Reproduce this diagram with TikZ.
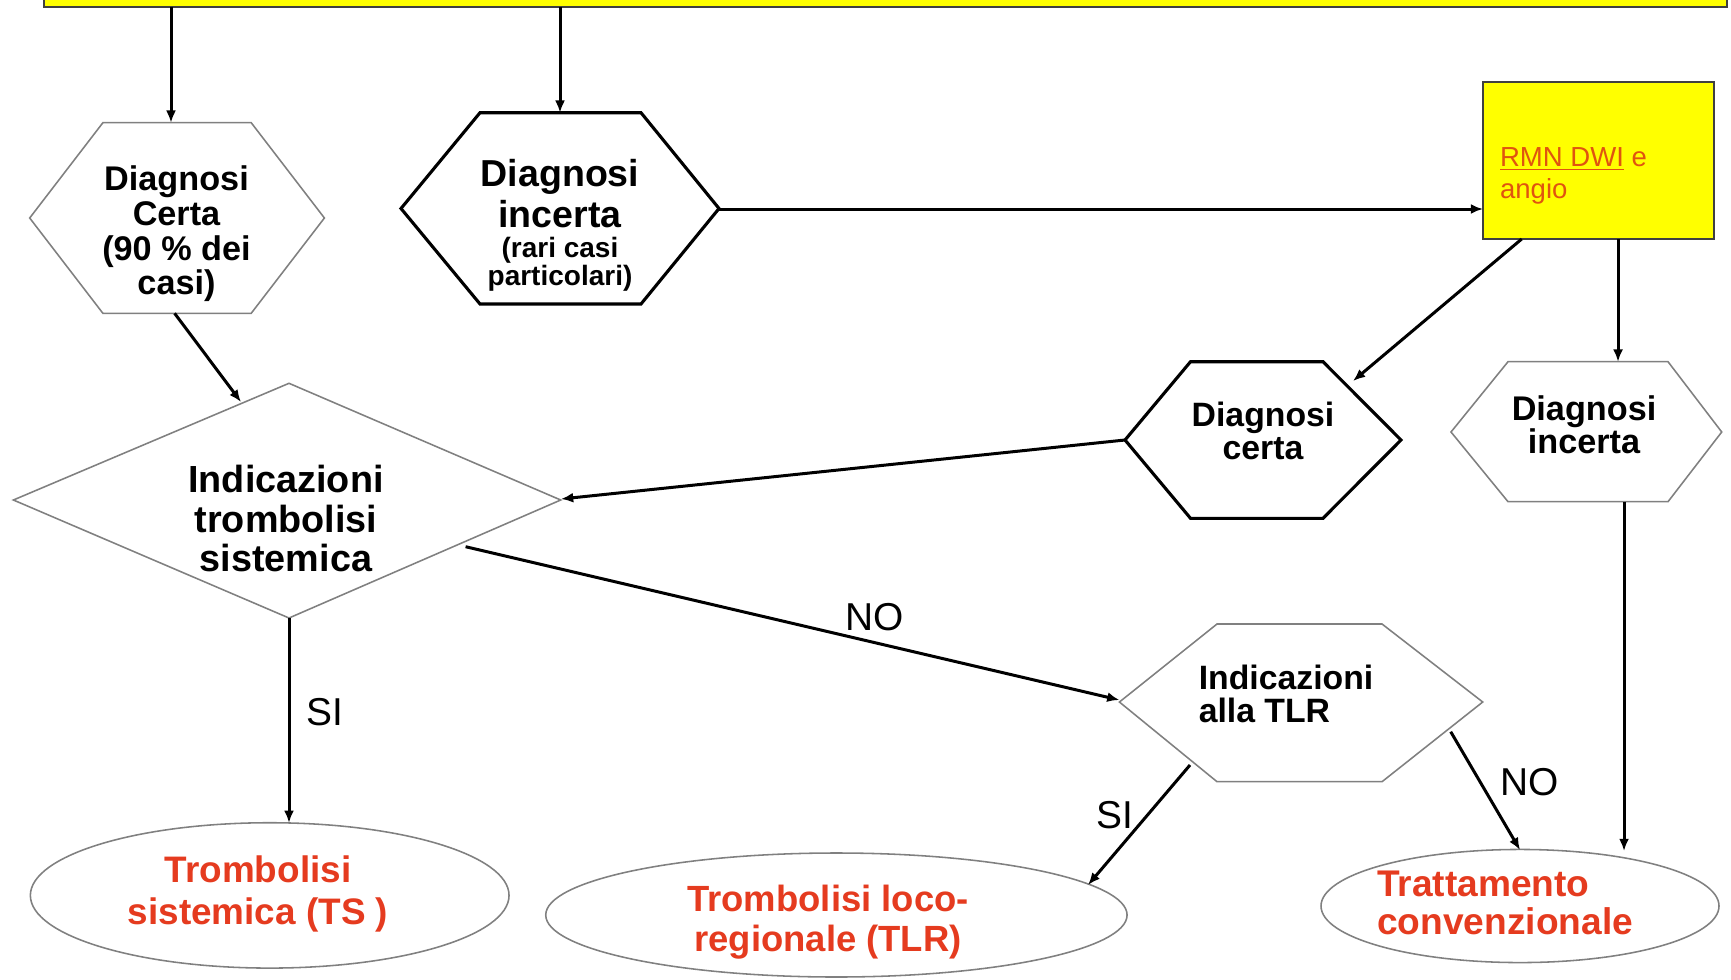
\documentclass[tikz,border=0pt]{standalone}
\usepackage{fontspec}
\setmainfont{Liberation Sans}
\usetikzlibrary{arrows.meta,shapes.geometric}
\definecolor{barfill}{HTML}{FFFF00}
\definecolor{redtxt}{HTML}{E53B1F}
\definecolor{rmntxt}{HTML}{E0540F}
\definecolor{thinline}{HTML}{808080}
\begin{document}
\begin{tikzpicture}[x=0.45pt,y=-0.45pt,
  thinshape/.style={draw=thinline,line width=0.7pt,fill=white},
  thickshape/.style={draw=black,line width=1.4pt,fill=white},
  conn/.style={draw=black,line width=1.35pt,-{Latex[length=5.5pt,width=4.5pt]}},
  btxt/.style 2 args={font=\bfseries\fontsize{#1}{#2}\selectfont,align=center,inner sep=0pt},
  ltxt/.style 2 args={font=\bfseries\fontsize{#1}{#2}\selectfont,align=left,inner sep=0pt,anchor=west},
  rtxt/.style={text=redtxt},
  lbl/.style={font=\fontsize{17.5}{20}\selectfont,inner sep=0pt},
  ell/.style={ellipse,draw=thinline,line width=0.7pt,fill=white,inner sep=0pt}]
\useasboundingbox (0,0) rectangle (1731,979);
\fill[white] (0,0) rectangle (1731,979);

% top bar
\draw[fill=barfill,draw=black!75,line width=1pt] (44,-30) rectangle (1727,6.7);
\coordinate (top1) at (171,6.7);
\coordinate (top2) at (560,6.7);

% hexagon 1 : Diagnosi Certa
\draw[thinshape] (29.7,218) -- (102.9,122.7) -- (251.2,122.7) -- (324.4,218) -- (251.2,313.3) -- (102.9,313.3) -- cycle;
\coordinate (h1n) at (171,122.7);
\coordinate (h1s) at (174.6,313.3);
\node[btxt={15.4}{15.6}] (h1) at (176.5,234) {Diagnosi\\Certa\\(90 \% dei\\casi)};

% hexagon 2 : Diagnosi incerta
\draw[thickshape] (401,208.5) -- (480,112.7) -- (641,112.7) -- (719,208.5) -- (641,304) -- (480,304) -- cycle;
\coordinate (h2n) at (560,112.7);
\coordinate (h2e) at (719,209);
\node[btxt={16.9}{18.4}] (h2) at (560,193.5) {Diagnosi\\incerta};
\node[btxt={12.6}{12.8}] (h2b) at (560,264) {(rari casi\\particolari)};

% RMN box
\draw[fill=barfill,draw=black!75,line width=1pt] (1483,81.7) rectangle (1713.7,239);
\coordinate (rmnw) at (1483,209);
\coordinate (rmns1) at (1521.7,239);
\coordinate (rmns2) at (1618,239);
\node[anchor=west,inner sep=0pt,align=left,text=rmntxt,font=\fontsize{12.4}{14.3}\selectfont] (rmn) at (1499.6,176) {\underline{RMN DWI} e\\angio};

% hexagon 3 : Diagnosi certa
\draw[thickshape] (1125,440) -- (1190.5,361.7) -- (1323,361.7) -- (1401,440) -- (1323,518.3) -- (1190.5,518.3) -- cycle;
\coordinate (h3ne) at (1353,381);
\coordinate (h3w) at (1125,440);
\node[btxt={15.2}{14.6}] (h3) at (1263,431) {Diagnosi\\certa};

% hexagon 4 : Diagnosi incerta
\draw[thinshape] (1451,432) -- (1508,361.7) -- (1668,361.7) -- (1721.7,432) -- (1668,501.7) -- (1508,501.7) -- cycle;
\coordinate (h4n) at (1618,361.7);
\coordinate (h4s) at (1624,501.7);
\node[btxt={15.4}{14.9}] (h4) at (1584,424.5) {Diagnosi\\incerta};

% diamond
\draw[thinshape] (13.4,500) -- (289,383.3) -- (560.7,500) -- (289,618) -- cycle;
\coordinate (dnw) at (241,402);
\coordinate (de) at (561,499);
\coordinate (dse) at (465.6,546.7);
\coordinate (ds) at (289,618);
\node[btxt={17}{17.6}] (dia) at (286,518.5) {Indicazioni\\trombolisi\\sistemica};

% hexagon 5 : Indicazioni alla TLR
\draw[thinshape] (1119.4,702) -- (1217,624) -- (1382,624) -- (1482.7,702) -- (1382,781.7) -- (1217,781.7) -- cycle;
\coordinate (h5w) at (1119.4,700);
\coordinate (h5sw) at (1190,765);
\coordinate (h5se) at (1450.7,731.7);
\node[ltxt={15.2}{14.9}] (h5) at (1198.3,694) {Indicazioni\\alla TLR};

% ellipses
\node[ell,minimum width=215.4pt,minimum height=65.4pt] (e1) at (269.7,895.4) {};
\node[btxt={16.6}{18.8},rtxt] (e1t) at (258,894) {Trombolisi\\sistemica (TS )};
\node[ell,minimum width=261.6pt,minimum height=55.8pt] (e2) at (836.4,915) {};
\node[btxt={16.4}{18.2},rtxt] (e2t) at (828,922) {Trombolisi loco-\\regionale (TLR)};
\node[ell,minimum width=179.1pt,minimum height=50.9pt] (e3) at (1520,906) {};
\node[ltxt={16.7}{17.2},rtxt] (e3t) at (1376.8,903) {Trattamento\\convenzionale};
\coordinate (e1n) at (289,822.8);
\coordinate (e2ne) at (1088,885);
\coordinate (e3n1) at (1520,850);
\coordinate (e3n2) at (1624,851);

% connectors
\draw[conn] (top1) -- (h1n);
\draw[conn] (top2) -- (h2n);
\draw[conn] (h2e) -- (rmnw);
\draw[conn] (rmns1) -- (h3ne);
\draw[conn] (rmns2) -- (h4n);
\draw[conn] (h1s) -- (dnw);
\draw[conn] (h3w) -- (de);
\draw[conn] (dse) -- (h5w);
\draw[conn] (ds) -- (e1n);
\draw[conn] (h5sw) -- (e2ne);
\draw[conn] (h5se) -- (e3n1);
\draw[conn] (h4s) -- (e3n2);

% labels
\node[lbl] (no1) at (875,617) {NO};
\node[lbl] (si1) at (325,712) {SI};
\node[lbl] (si2) at (1115,815) {SI};
\node[lbl] (no2) at (1530,782) {NO};
\end{tikzpicture}
\end{document}
